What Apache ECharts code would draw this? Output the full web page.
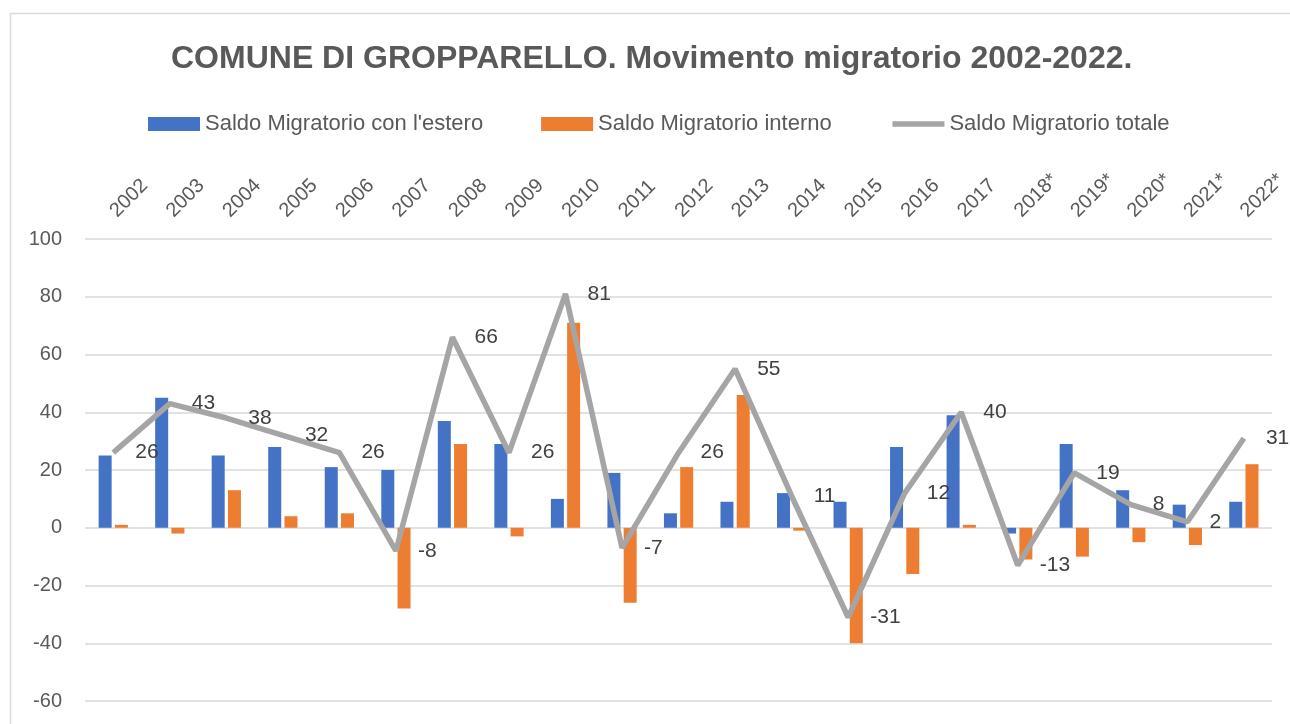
<!DOCTYPE html>
<html>
<head>
<meta charset="utf-8">
<script src="https://cdn.jsdelivr.net/npm/echarts@6/dist/echarts.min.js"></script>
<style>
  html, body { margin: 0; padding: 0; background: #fff; }
  #container { width: 1290px; height: 724px; }
</style>
</head>
<body>
<div id="container"></div>
<script>
let dom = document.getElementById("container");
let myChart = echarts.init(dom);

const years = ['2002', '2003', '2004', '2005', '2006', '2007', '2008', '2009', '2010', '2011', '2012',
    '2013', '2014', '2015', '2016', '2017', '2018*', '2019*', '2020*', '2021*', '2022*'];
const saldoEstero = [25, 45, 25, 28, 21, 20, 37, 29, 10, 19, 5, 9, 12, 9, 28, 39, -2, 29, 13, 8, 9];
const saldoInterno = [1, -2, 13, 4, 5, -28, 29, -3, 71, -26, 21, 46, -1, -40, -16, 1, -11, -10, -5, -6, 22];
const saldoTotale = [26, 43, 38, 32, 26, -8, 66, 26, 81, -7, 26, 55, 11, -31, 12, 40, -13, 19, 8, 2, 31];
const yTicks = {min: -60, max: 100, step: 20};

const fontName = '"Liberation Sans", sans-serif';
const textGrey = '#595959';

let option = {
    backgroundColor: '#ffffff',
    animation: false,
    graphic: [{
        type: 'rect',
        left: 8,
        top: 11,
        shape: {width: 1400, height: 800},
        style: {fill: 'none', stroke: '#d9d9d9', lineWidth: 1.5}
    }],
    title: {
        text: 'COMUNE DI GROPPARELLO. Movimento migratorio 2002-2022.',
        left: 166,
        top: 38,
        textStyle: {
            fontFamily: fontName,
            fontWeight: 'bold',
            fontSize: 32,
            color: textGrey
        }
    },
    legend: {
        top: 108,
        left: 143,
        itemWidth: 52,
        itemHeight: 14,
        itemGap: 58,
        textStyle: {
            fontFamily: fontName,
            fontSize: 22,
            color: textGrey
        },
        data: [
            {name: "Saldo Migratorio con l'estero", icon: 'rect'},
            {name: 'Saldo Migratorio interno', icon: 'rect'},
            {name: 'Saldo Migratorio totale', itemStyle: {opacity: 0}, lineStyle: {width: 5.5, color: '#a5a5a5'}}
        ]
    },
    grid: {
        left: 85,
        right: 17,
        top: 239,
        height: 462
    },
    xAxis: {
        type: 'category',
        data: years,
        position: 'top',
        axisLine: {show: false},
        axisTick: {show: false},
        axisLabel: {
            rotate: 45,
            margin: 25,
            fontFamily: fontName,
            fontSize: 20,
            color: textGrey
        }
    },
    yAxis: {
        type: 'value',
        min: yTicks.min,
        max: yTicks.max,
        interval: yTicks.step,
        axisLine: {show: false},
        axisTick: {show: false},
        axisLabel: {
            margin: 23,
            fontFamily: fontName,
            fontSize: 20,
            color: textGrey
        },
        splitLine: {lineStyle: {color: '#d9d9d9', width: 1.5}}
    },
    series: [
        {
            name: "Saldo Migratorio con l'estero",
            type: 'bar',
            data: saldoEstero,
            barWidth: 13,
            barGap: '25%',
            itemStyle: {color: '#4472c4'}
        },
        {
            name: 'Saldo Migratorio interno',
            type: 'bar',
            data: saldoInterno,
            barWidth: 13,
            barGap: '25%',
            itemStyle: {color: '#ed7d31'}
        },
        {
            name: 'Saldo Migratorio totale',
            type: 'line',
            data: saldoTotale,
            symbol: 'circle',
            symbolSize: 0.1,
            showSymbol: true,
            lineStyle: {color: '#a5a5a5', width: 5.5},
            itemStyle: {color: '#a5a5a5'},
            z: 5,
            label: {
                show: true,
                position: 'right',
                distance: 22,
                fontFamily: fontName,
                fontSize: 21,
                color: '#404040'
            }
        }
    ]
};

if (option && typeof option === "object") {
    myChart.setOption(option, true);
}
</script>
</body>
</html>
